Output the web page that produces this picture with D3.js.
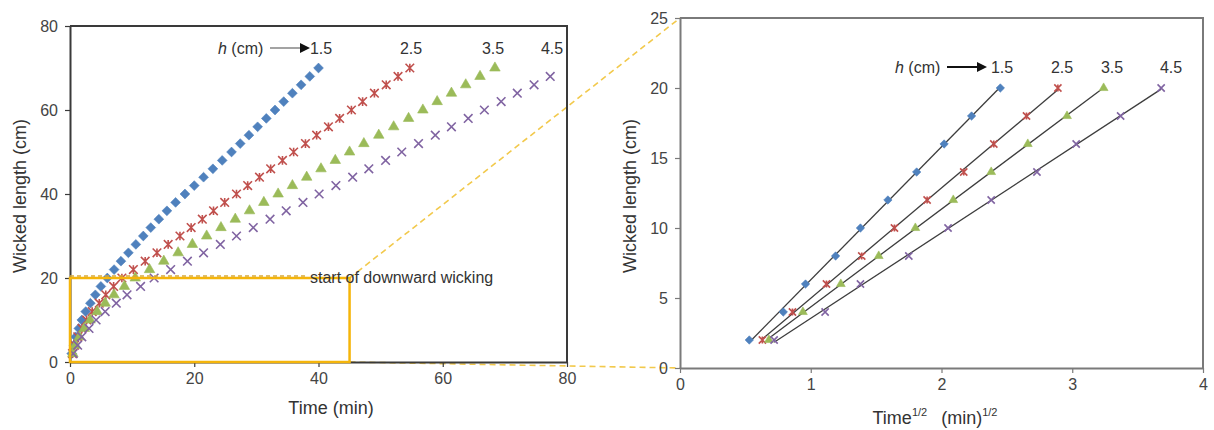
<!DOCTYPE html>
<html>
<head>
<meta charset="utf-8">
<script src="https://cdn.jsdelivr.net/npm/d3@7"></script>
<style>
    body { margin: 0; background: #fff; }
    svg { font-family: "Liberation Sans", Arial, sans-serif; }
</style>
</head>
<body>
<svg id="chart" width="1214" height="430"></svg>
<script>
"use strict";

// h (cm) of each series
const heights = ["1.5", "2.5", "3.5", "4.5"];
const colors = ["#4F81BD", "#C0504D", "#9BBB59", "#8064A2"];
const markers = ["diamond", "star", "triangle", "cross"];

// left chart: wicked length (cm) vs time (min)
const lengths = [2, 4, 6, 8, 10, 12, 14, 16, 18, 20, 22, 24, 26, 28, 30, 32, 34, 36, 38, 40,
    42, 44, 46, 48, 50, 52, 54, 56, 58, 60, 62, 64, 66, 68, 70];
const timeBlue = [0.28, 0.62, 0.92, 1.42, 1.90, 2.53, 3.28, 4.08, 4.97, 6.0, 7.1, 8.2, 9.4, 10.6, 11.8,
    13.0, 14.3, 15.6, 17.0, 18.5, 20.0, 21.5, 23.0, 24.5, 26.0, 27.4, 28.8, 30.2, 31.6, 33.0, 34.4,
    35.8, 37.2, 38.6, 40.0];
const timeRed = [0.40, 0.74, 1.25, 1.93, 2.69, 3.57, 4.71, 5.76, 7.02, 8.35, 10.2, 12.1, 14.0, 15.8,
    17.7, 19.5, 21.3, 23.1, 24.9, 26.8, 28.6, 30.5, 32.3, 34.2, 36.0, 37.9, 39.7, 41.6, 43.4, 45.3,
    47.1, 49.0, 50.9, 52.8, 54.7];
const timeGreen = [0.46, 0.88, 1.51, 2.31, 3.24, 4.37, 5.66, 7.08, 8.76, 10.5, 12.8, 15.1, 17.4, 19.7,
    22.0, 24.3, 26.6, 28.9, 31.2, 33.5, 35.8, 38.1, 40.4, 42.7, 45.0, 47.3, 49.7, 52.1, 54.5, 56.8,
    59.1, 61.4, 63.7, 66.0, 68.4];
const timePurple = [0.52, 1.23, 1.90, 3.06, 4.20, 5.66, 7.45, 9.18, 11.36, 13.54, 16.2, 18.9, 21.5,
    24.2, 26.8, 29.5, 32.2, 34.8, 37.5, 40.1, 42.8, 45.5, 48.1, 50.8, 53.4, 56.1, 58.8, 61.4, 64.1,
    66.7, 69.4, 72.0, 74.7, 77.3];

// right chart: wicked length (cm) vs time^1/2 (min^1/2)
const rootLengths = [2, 4, 6, 8, 10, 12, 14, 16, 18, 20];
const rootBlue = [0.53, 0.79, 0.96, 1.19, 1.38, 1.59, 1.81, 2.02, 2.23, 2.45];
const rootRed = [0.63, 0.86, 1.12, 1.39, 1.64, 1.89, 2.17, 2.40, 2.65, 2.89];
const rootGreen = [0.68, 0.94, 1.23, 1.52, 1.80, 2.09, 2.38, 2.66, 2.96, 3.24];
const rootPurple = [0.72, 1.11, 1.38, 1.75, 2.05, 2.38, 2.73, 3.03, 3.37, 3.68];

const leftTicksX = [0, 20, 40, 60, 80];
const leftTicksY = [0, 20, 40, 60, 80];
const rightTicksX = [0, 1, 2, 3, 4];
const rightTicksY = [0, 5, 10, 15, 20, 25];

const svg = d3.select("#chart");

const xL = d3.scaleLinear().domain([0, 80]).range([70, 567]);
const yL = d3.scaleLinear().domain([0, 80]).range([362, 26]);
const xR = d3.scaleLinear().domain([0, 4]).range([680, 1203]);
const yR = d3.scaleLinear().domain([0, 25]).range([368, 18]);

function pairs(xs, ys) {
    return xs.map((x, i) => ({ x: x, y: ys[i] }));
}

const leftSeries = [timeBlue, timeRed, timeGreen, timePurple].map(t => pairs(t, lengths));
const rightSeries = [rootBlue, rootRed, rootGreen, rootPurple].map(t => pairs(t, rootLengths));

// zoom connector lines (behind everything)
const connector = svg.append("g")
    .attr("stroke", "#f2c94c")
    .attr("stroke-width", 1.6)
    .attr("stroke-dasharray", "6,4")
    .attr("fill", "none");
connector.append("line")
    .attr("x1", xL(45)).attr("y1", yL(20))
    .attr("x2", xR(0)).attr("y2", yR(25));
connector.append("line")
    .attr("x1", xL(45)).attr("y1", yL(0))
    .attr("x2", xR(0)).attr("y2", yR(0));

function drawFrame(x, y, ticksX, ticksY, color, width) {
    const g = svg.append("g");
    const [x0, x1] = x.range();
    const [y0, y1] = y.range();

    const ax = g.append("g")
        .attr("transform", `translate(0,${y0})`)
        .call(d3.axisBottom(x).tickValues(ticksX).tickFormat(d3.format("d"))
            .tickSize(5).tickSizeOuter(0).tickPadding(6));
    const ay = g.append("g")
        .attr("transform", `translate(${x0},0)`)
        .call(d3.axisLeft(y).tickValues(ticksY).tickFormat(d3.format("d"))
            .tickSize(5).tickSizeOuter(0).tickPadding(7));

    for (let a of [ax, ay]) {
        a.select(".domain").attr("stroke", color).attr("stroke-width", width);
        a.selectAll(".tick line").attr("stroke", color).attr("stroke-width", 1.2);
        a.selectAll(".tick text").attr("fill", "#444").style("font-size", "16px");
    }

    // top + right border
    g.append("path")
        .attr("d", `M${x0},${y1}H${x1}V${y0}`)
        .attr("fill", "none")
        .attr("stroke", color)
        .attr("stroke-width", width);
}

drawFrame(xL, yL, leftTicksX, leftTicksY, "#3a3a3a", 2);
drawFrame(xR, yR, rightTicksX, rightTicksY, "#7a7a7a", 2);

function markerPath(type, r) {
    if (type == "diamond") return `M0,${-r}L${r},0L0,${r}L${-r},0Z`;
    if (type == "triangle") return d3.symbol(d3.symbolTriangle, r * r * 2.6)();
    if (type == "star") return `M${-r},${-r}L${r},${r}M${-r},${r}L${r},${-r}M0,${-r}L0,${r}`;
    return `M${-r},${-r}L${r},${r}M${-r},${r}L${r},${-r}`;
}

function drawMarkers(series, x, y, r) {
    series.forEach((pts, i) => {
        const filled = markers[i] == "diamond" || markers[i] == "triangle";
        svg.append("g")
            .selectAll("path")
            .data(pts)
            .enter()
            .append("path")
            .attr("transform", d => `translate(${x(d.x)},${y(d.y)})`)
            .attr("d", markerPath(markers[i], markers[i] == "diamond" ? r + 0.6 : r))
            .attr("fill", filled ? colors[i] : "none")
            .attr("stroke", colors[i])
            .attr("stroke-width", filled ? 0.6 : 1.6);
    });
}

drawMarkers(leftSeries, xL, yL, 4.3);

// right chart trend lines (least squares through each series)
rightSeries.forEach(pts => {
    const mx = d3.mean(pts, d => d.x);
    const my = d3.mean(pts, d => d.y);
    const b = d3.sum(pts, d => (d.x - mx) * (d.y - my)) / d3.sum(pts, d => (d.x - mx) ** 2);
    const a = my - b * mx;
    const [lo, hi] = d3.extent(pts, d => d.x);
    svg.append("line")
        .attr("x1", xR(lo)).attr("y1", yR(a + b * lo))
        .attr("x2", xR(hi)).attr("y2", yR(a + b * hi))
        .attr("stroke", "#3d3d3d")
        .attr("stroke-width", 1.3);
});

drawMarkers(rightSeries, xR, yR, 3.6);

// zoom box on the left chart
svg.append("rect")
    .attr("x", xL(0)).attr("y", yL(20))
    .attr("width", xL(45) - xL(0)).attr("height", yL(0) - yL(20))
    .attr("fill", "none")
    .attr("stroke", "#f5b50a")
    .attr("stroke-width", 2.5);

svg.append("line")
    .attr("x1", xL(0)).attr("y1", yL(20) - 2)
    .attr("x2", 308).attr("y2", yL(20) - 2)
    .attr("stroke", "#d8a93a")
    .attr("stroke-width", 1.3)
    .attr("stroke-dasharray", "4,3");
svg.append("text")
    .attr("x", 310).attr("y", yL(20) - 1)
    .attr("dominant-baseline", "central")
    .attr("fill", "#333")
    .style("font-size", "16px")
    .text("start of downward wicking");

// h (cm) labels
function drawLegend(x0, y0, arrowLen, labelX, thick) {
    const g = svg.append("g").style("font-size", "16px").attr("fill", "#333");
    const t = g.append("text").attr("x", x0).attr("y", y0).attr("dominant-baseline", "central");
    t.append("tspan").attr("font-style", "italic").text("h");
    t.append("tspan").text(" (cm)");
    const ax = x0 + 52;
    g.append("line")
        .attr("x1", ax).attr("y1", y0).attr("x2", ax + arrowLen - 9).attr("y2", y0)
        .attr("stroke", thick ? "#111" : "#666")
        .attr("stroke-width", thick ? 2 : 1.2);
    g.append("path")
        .attr("d", `M${ax + arrowLen},${y0}l-10,-5v10z`)
        .attr("fill", "#111");
    heights.forEach((h, i) => {
        g.append("text")
            .attr("x", labelX[i]).attr("y", y0)
            .attr("text-anchor", "middle")
            .attr("dominant-baseline", "central")
            .text(h);
    });
}

drawLegend(218, 48, 40, [321, 411, 493, 552], false);
drawLegend(895, 67, 40, [1002, 1062, 1112, 1171], true);

// axis titles
function yTitle(x, y) {
    svg.append("text")
        .attr("transform", `translate(${x},${y}) rotate(-90)`)
        .attr("text-anchor", "middle")
        .attr("dominant-baseline", "central")
        .attr("fill", "#333")
        .style("font-size", "18px")
        .text("Wicked length (cm)");
}
yTitle(20, 196);
yTitle(630, 196);

svg.append("text")
    .attr("x", 331).attr("y", 408)
    .attr("text-anchor", "middle")
    .attr("dominant-baseline", "central")
    .attr("fill", "#333")
    .style("font-size", "18px")
    .text("Time (min)");

const rt = svg.append("text")
    .attr("x", 935).attr("y", 418)
    .attr("text-anchor", "middle")
    .attr("dominant-baseline", "central")
    .attr("fill", "#333")
    .style("font-size", "18px");
rt.append("tspan").text("Time");
rt.append("tspan").attr("dy", -6).style("font-size", "11px").text("1/2");
rt.append("tspan").attr("dy", 6).attr("dx", 14).text("(min)");
rt.append("tspan").attr("dy", -6).style("font-size", "11px").text("1/2");
</script>
</body>
</html>
